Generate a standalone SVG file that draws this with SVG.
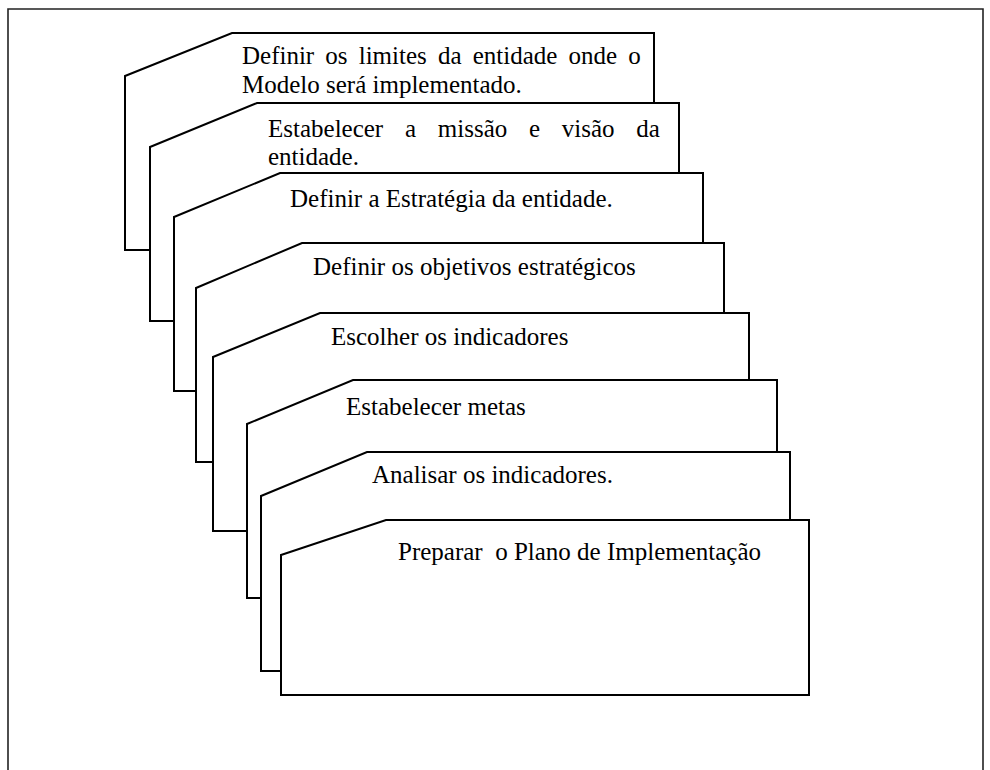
<svg xmlns="http://www.w3.org/2000/svg" width="990" height="770" viewBox="0 0 990 770">
  <style>
    .frame { fill: none; stroke: #222; stroke-width: 1.6; }
    .card { fill: #fff; stroke: #000; stroke-width: 2; stroke-linejoin: miter; }
    .lbl { font-family: "Liberation Serif", "Times New Roman", serif; font-size: 25px; fill: #000; }
  </style>
  <rect width="990" height="770" fill="#fff"/>
  <!-- outer frame (open at the bottom) -->
  <polyline class="frame" points="8,775 8,9 983,9 983,775"/>

  <!-- stacked step cards, each drawn over the previous one -->
  <g id="step1">
    <polygon class="card" points="125,76 232,33 654,33 654,250 125,250"/>
    <text class="lbl" x="242" y="64" word-spacing="4.9">Definir os limites da entidade onde o</text>
    <text class="lbl" x="242" y="93">Modelo será implementado.</text>
  </g>
  <g id="step2">
    <polygon class="card" points="150,147 257,103 679,103 679,321 150,321"/>
    <text class="lbl" x="268" y="137" word-spacing="15.5">Estabelecer a missão e visão da</text>
    <text class="lbl" x="268" y="165">entidade.</text>
  </g>
  <g id="step3">
    <polygon class="card" points="174,217 280,173 703,173 703,391 174,391"/>
    <text class="lbl" x="290" y="207">Definir a Estratégia da entidade.</text>
  </g>
  <g id="step4">
    <polygon class="card" points="196,288 302,243 724,243 724,462 196,462"/>
    <text class="lbl" x="313" y="275">Definir os objetivos estratégicos</text>
  </g>
  <g id="step5">
    <polygon class="card" points="213,357 320,313 749,313 749,531 213,531"/>
    <text class="lbl" x="331" y="345">Escolher os indicadores</text>
  </g>
  <g id="step6">
    <polygon class="card" points="247,424 353,380 777,380 777,598 247,598"/>
    <text class="lbl" x="346" y="415">Estabelecer metas</text>
  </g>
  <g id="step7">
    <polygon class="card" points="261,496 367,452 790,452 790,671 261,671"/>
    <text class="lbl" x="372" y="483">Analisar os indicadores.</text>
  </g>
  <g id="step8">
    <polygon class="card" points="281,555 386,520 809,520 809,695 281,695"/>
    <text class="lbl" x="398" y="560" xml:space="preserve">Preparar  o Plano de Implementação</text>
  </g>
  <g id="connectors"/>
</svg>
